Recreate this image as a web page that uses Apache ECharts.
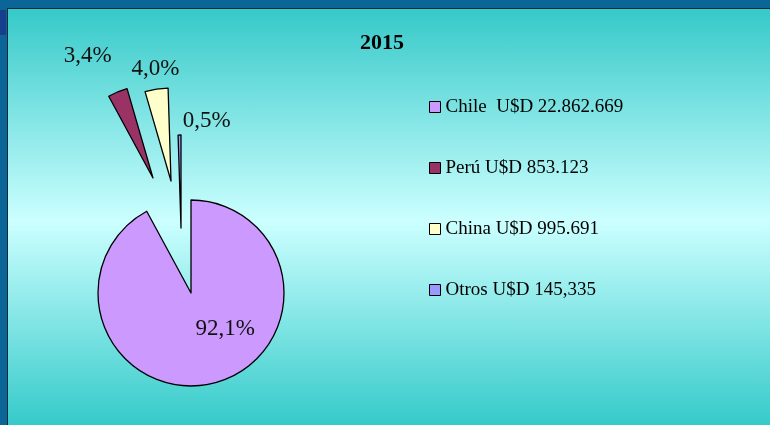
<!DOCTYPE html>
<html>
<head>
<meta charset="utf-8">
<script src="https://cdn.jsdelivr.net/npm/echarts@6/dist/echarts.min.js"></script>
<style>
html,body{margin:0;padding:0;width:770px;height:425px;overflow:hidden;background:#0b6697;}
#panel{position:absolute;left:7px;top:8px;width:762px;height:416px;border-top:1px solid #0b2a3c;border-left:1px solid #0b2a3c;
  background:linear-gradient(to bottom,#36c9c9 0%,#ccffff 51%,#36caca 100%);}
#mark{position:absolute;left:0;top:10px;width:6px;height:25px;background:#163f8e;}
#chart{position:absolute;left:0;top:0;width:770px;height:425px;}
</style>
</head>
<body>
<div id="panel"></div>
<div id="mark"></div>
<div id="chart"></div>
<script>
// ---- data ----
const chartTitle = '2015';
const categories = ['Chile', 'Perú', 'China', 'Otros'];
const legendLabels = ['Chile  U$D 22.862.669', 'Perú U$D 853.123', 'China U$D 995.691', 'Otros U$D 145,335'];
const shares = [92.1, 3.4, 4.0, 0.5];

// ---- styles ----
const colors = ['#cc99ff', '#993366', '#ffffcc', '#9999ff'];
const centers = [[191, 293], [153, 178], [171, 181], [181, 228]];
const labelPos = [
  { position: 'inside', dx: 22, dy: -12 },
  { position: 'outside', dx: -1, dy: -36 },
  { position: 'outside', dx: 28, dy: -20 },
  { position: 'outside', dx: 56, dy: -14 }
];
const serif = "'Liberation Serif', 'Times New Roman', serif";

const fmtPct = v => v.toFixed(1).replace('.', ',') + '%';

const series = categories.map((cat, i) => ({
  type: 'pie',
  name: cat,
  center: centers[i],
  radius: 93,
  startAngle: 90,
  clockwise: true,
  avoidLabelOverlap: false,
  animation: false,
  emphasis: { disabled: true },
  labelLine: { show: false, length: 0, length2: 0 },
  labelLayout: { dx: labelPos[i].dx, dy: labelPos[i].dy },
  data: categories.map((c, j) => ({
    name: c,
    value: shares[j],
    itemStyle: j === i
      ? { color: colors[j], borderColor: '#000', borderWidth: 1.3 }
      : { color: 'rgba(0,0,0,0)', borderWidth: 0 },
    label: j === i
      ? { show: true, position: labelPos[i].position, formatter: () => fmtPct(shares[j]),
          fontFamily: serif, fontSize: 23, color: '#111' }
      : { show: false }
  }))
}));

const chart = echarts.init(document.getElementById('chart'), null, { renderer: 'canvas' });
chart.setOption({
  backgroundColor: 'transparent',
  animation: false,
  title: {
    text: chartTitle,
    left: 355,
    top: 27,
    textStyle: { fontFamily: serif, fontSize: 22, fontWeight: 'bold', color: '#000' }
  },
  legend: {
    orient: 'vertical',
    left: 424,
    top: 92,
    itemGap: 41,
    itemWidth: 11,
    itemHeight: 11,
    icon: 'rect',
    selectedMode: false,
    data: categories.map((c, i) => ({
      name: c,
      itemStyle: { color: colors[i], borderColor: '#000', borderWidth: 1 }
    })),
    formatter: name => legendLabels[categories.indexOf(name)],
    textStyle: { fontFamily: serif, fontSize: 19, color: '#000', lineHeight: 20 }
  },
  series: series
});
</script>
</body>
</html>
